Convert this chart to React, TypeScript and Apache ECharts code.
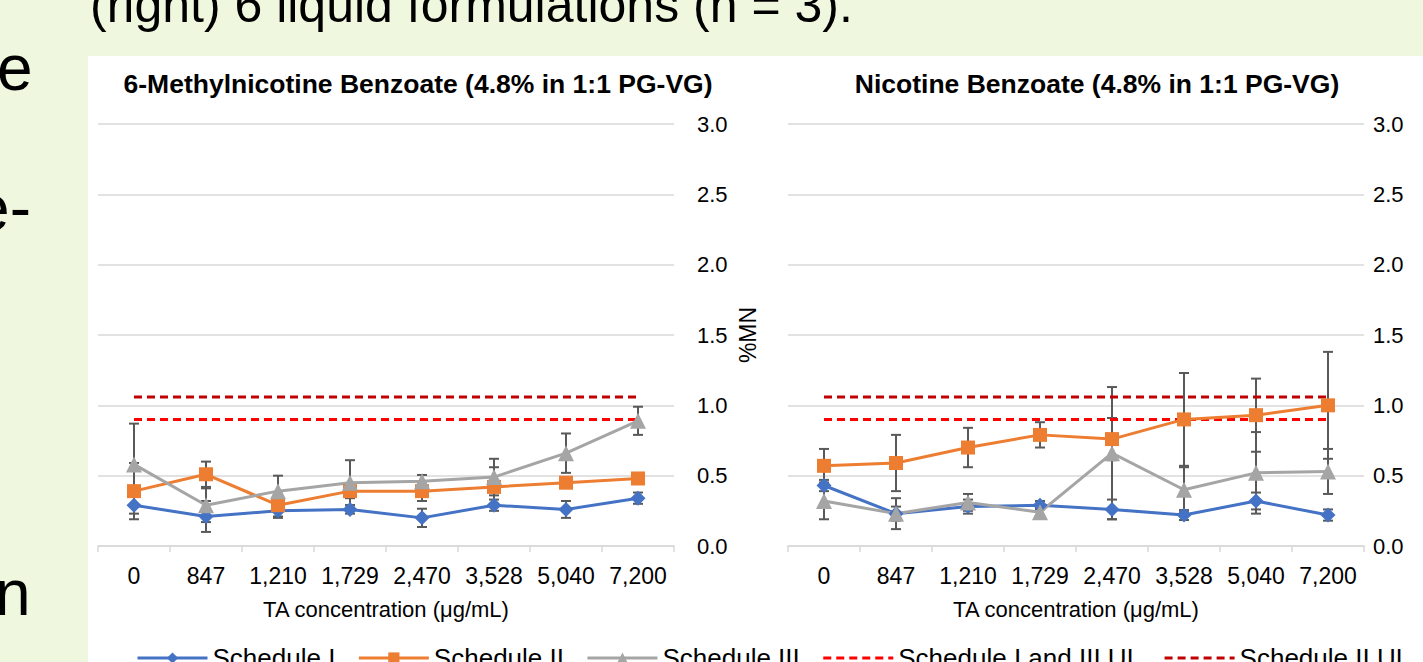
import React, { useEffect, useRef } from "react";
import * as echarts from "echarts";

const FONT = "'Liberation Sans', Arial, sans-serif";

const categories = ["0", "847", "1,210", "1,729", "2,470", "3,528", "5,040", "7,200"];

// 6-Methylnicotine Benzoate
const mnSchedI = [0.29, 0.21, 0.25, 0.26, 0.2, 0.29, 0.26, 0.34];
const mnSchedIErr = [0.06, 0.11, 0.05, 0.03, 0.065, 0.04, 0.06, 0.04];
const mnSchedII = [0.39, 0.51, 0.29, 0.39, 0.39, 0.42, 0.45, 0.48];
const mnSchedIIErr = [0.2, 0.09, 0.08, 0.05, 0.07, 0.14, 0.03, 0.03];
const mnSchedIII = [0.58, 0.29, 0.39, 0.45, 0.46, 0.49, 0.66, 0.89];
const mnSchedIIIErr = [0.29, 0.12, 0.11, 0.16, 0.045, 0.13, 0.14, 0.1];

// Nicotine Benzoate
const nbSchedI = [0.43, 0.23, 0.28, 0.29, 0.26, 0.22, 0.32, 0.22];
const nbSchedIErr = [0.04, 0.05, 0.05, 0.03, 0.07, 0.035, 0.06, 0.04];
const nbSchedII = [0.57, 0.59, 0.7, 0.79, 0.76, 0.9, 0.93, 1.0];
const nbSchedIIErr = [0.12, 0.2, 0.14, 0.09, 0.15, 0.33, 0.26, 0.38];
const nbSchedIII = [0.32, 0.23, 0.31, 0.24, 0.66, 0.4, 0.52, 0.53];
const nbSchedIIIErr = [0.13, 0.11, 0.06, 0.03, 0.47, 0.16, 0.29, 0.16];

// Upper limits
const ulSchedIandIII = [0.9, 0.9, 0.9, 0.9, 0.9, 0.9, 0.9, 0.9];
const ulSchedII = [1.06, 1.06, 1.06, 1.06, 1.06, 1.06, 1.06, 1.06];

const titles = ["6-Methylnicotine Benzoate (4.8% in 1:1 PG-VG)", "Nicotine Benzoate (4.8% in 1:1 PG-VG)"];
const xName = "TA concentration (μg/mL)";
const yName = "%MN";
const names = ["Schedule I", "Schedule II", "Schedule III", "Schedule I and III UL", "Schedule II UL"];
const colors = ["#4472C4", "#ED7D31", "#A5A5A5", "#FF0000", "#C00000"];
const symbols = ["diamond", "rect", "triangle"];
const symbolSizes = [15, 14, 16];

export default function App() {
  const ref = useRef<HTMLDivElement>(null);
  useEffect(() => {
    const chart = echarts.init(ref.current!, null, { renderer: "svg" });

    const errRender = (params: any, api: any) => {
      const i = api.value(0);
      const lo = api.coord([i, api.value(1)]);
      const hi = api.coord([i, api.value(2)]);
      const hw = 5;
      const style = { stroke: "#595959", lineWidth: 2 };
      return {
        type: "group",
        children: [
          { type: "line", shape: { x1: hi[0], y1: hi[1], x2: lo[0], y2: lo[1] }, style },
          { type: "line", shape: { x1: hi[0] - hw, y1: hi[1], x2: hi[0] + hw, y2: hi[1] }, style },
          { type: "line", shape: { x1: lo[0] - hw, y1: lo[1], x2: lo[0] + hw, y2: lo[1] }, style },
        ],
      };
    };

    const panels = [
      { vals: [mnSchedI, mnSchedII, mnSchedIII], errs: [mnSchedIErr, mnSchedIIErr, mnSchedIIIErr] },
      { vals: [nbSchedI, nbSchedII, nbSchedIII], errs: [nbSchedIErr, nbSchedIIErr, nbSchedIIIErr] },
    ];

    const series: any[] = [];
    panels.forEach((p, g) => {
      p.vals.forEach((v, k) => {
        series.push({
          type: "custom",
          name: names[k] + " error",
          xAxisIndex: g,
          yAxisIndex: g,
          renderItem: errRender,
          encode: { x: 0, y: [1, 2] },
          data: v.map((val, i) => [i, val - p.errs[k][i], val + p.errs[k][i]]),
          z: 2,
          silent: true,
        });
      });
      [ulSchedIandIII, ulSchedII].forEach((ul, j) => {
        series.push({
          type: "line",
          name: names[3 + j],
          xAxisIndex: g,
          yAxisIndex: g,
          data: ul,
          symbol: "none",
          lineStyle: { color: colors[3 + j], width: 3, type: [8, 5] },
          itemStyle: { color: colors[3 + j], opacity: 0 },
          z: 3,
        });
      });
      p.vals.forEach((v, k) => {
        series.push({
          type: "line",
          name: names[k],
          xAxisIndex: g,
          yAxisIndex: g,
          data: v,
          symbol: symbols[k],
          symbolSize: symbolSizes[k],
          lineStyle: { color: colors[k], width: 3 },
          itemStyle: { color: colors[k] },
          z: 4,
        });
      });
    });

    const grids = [
      { left: 98, top: 124, width: 576, height: 422 },
      { left: 788, top: 124, width: 576, height: 422 },
    ];
    const labelMargins = [23, 9];
    const titleCenters = [413, 1092];

    const option: any = {
      animation: false,
      backgroundColor: "#EFF8DE",
      textStyle: { fontFamily: FONT },
      title: titles.map((t, i) => ({
        text: t,
        left: titleCenters[i],
        top: 65,
        textAlign: "center",
        textStyle: { fontFamily: FONT, fontSize: 26.5, fontWeight: "bold", color: "#000" },
      })),
      grid: grids,
      xAxis: grids.map((_, i) => ({
        type: "category",
        gridIndex: i,
        data: categories,
        boundaryGap: true,
        axisLine: { lineStyle: { color: "#D9D9D9", width: 1.5 } },
        axisTick: { show: true, length: 6, interval: 0, lineStyle: { color: "#D9D9D9", width: 1.5 } },
        axisLabel: { color: "#000", fontSize: 23, margin: 18, interval: 0, fontFamily: FONT },
        name: xName,
        nameLocation: "middle",
        nameGap: 52,
        nameTextStyle: { color: "#000", fontSize: 22, fontFamily: FONT },
      })),
      yAxis: grids.map((_, i) => ({
        type: "value",
        gridIndex: i,
        min: 0,
        max: 3,
        interval: 0.5,
        position: "right",
        axisLine: { show: false },
        axisTick: { show: false },
        splitLine: { lineStyle: { color: "#D9D9D9", width: 1.5 } },
        axisLabel: {
          formatter: (v: number) => v.toFixed(1),
          margin: labelMargins[i],
          color: "#000",
          fontSize: 22,
          fontFamily: FONT,
        },
      })),
      legend: {
        data: names.map((n, i) => (i >= 3 ? { name: n, itemStyle: { opacity: 0 } } : { name: n })),
        left: 131,
        top: 640,
        itemGap: 22,
        itemWidth: 70,
        itemHeight: 14,
        lineStyle: { width: 3 },
        textStyle: { fontSize: 26, color: "#000", fontFamily: FONT },
      },
      graphic: [
        { type: "rect", z: -10, shape: { x: 88, y: 56, width: 1335, height: 606 }, style: { fill: "#FFFFFF" }, silent: true },
        {
          type: "text",
          x: 90,
          y: -20,
          style: { text: "(right) 6 liquid formulations (n = 3).", font: `50px ${FONT}`, fill: "#000" },
        },
        { type: "text", x: -3, y: 36, style: { text: "e", font: `64px ${FONT}`, fill: "#000" } },
        { type: "text", x: 31, y: 176, style: { text: "e-", font: `64px ${FONT}`, fill: "#000", align: "right" } },
        { type: "text", x: -5, y: 561, style: { text: "n", font: `64px ${FONT}`, fill: "#000" } },
        {
          type: "text",
          x: 748,
          y: 335,
          rotation: Math.PI / 2,
          style: { text: yName, font: `23px ${FONT}`, fill: "#000", align: "center", verticalAlign: "middle" },
        },
      ],
      series,
    };
    chart.setOption(option);
    return () => chart.dispose();
  }, []);
  return <div ref={ref} style={{ position: "fixed", left: 0, top: 0, width: 1423, height: 662 }} />;
}
